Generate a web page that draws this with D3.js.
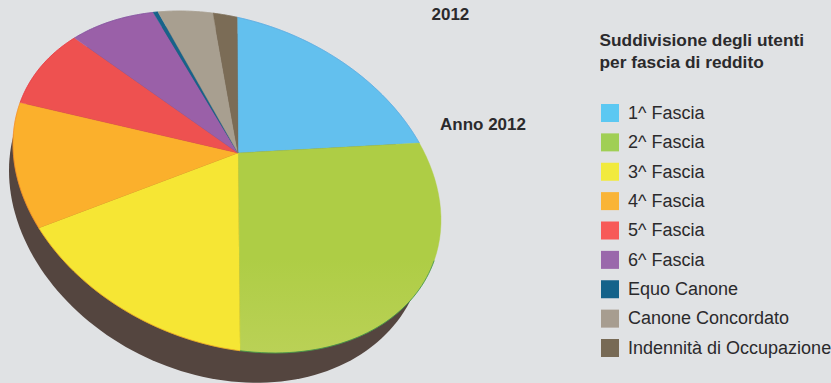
<!DOCTYPE html>
<html>
<head>
<meta charset="utf-8">
<style>
  html, body { margin: 0; padding: 0; background: #e0e2e4; }
  svg { display: block; }
  text { font-family: "Liberation Sans", Arial, sans-serif; fill: #2b2a2c; }
</style>
</head>
<body>
<svg id="chart" width="831" height="383"></svg>
<script src="https://cdn.jsdelivr.net/npm/d3@7"></script>
<script>
// Share of users per income band, year 2012 (percent)
const categories = ["1^ Fascia", "2^ Fascia", "3^ Fascia", "4^ Fascia", "5^ Fascia", "6^ Fascia",
                    "Equo Canone", "Canone Concordato", "Indennità di Occupazione"];
const shares = [20.25, 29.7, 15.07, 11.02, 8.51, 7.89, 0.44, 4.96, 2.16];
const sliceColors = ["#63c0ee", "#aecd45", "#f6e634", "#fbb02c", "#ee5150", "#9a60a8", "#17638a", "#a89f90", "#7b6c56"];
const swatchColors = ["#5cc8f2", "#a0cf55", "#f1ea3e", "#f9b437", "#f75a58", "#9a68ab", "#14628a", "#a79d90", "#776a55"];
const rimColors = ["#5aa6e0", "#2c8a4c", "#f5a623", "#f58a2a", "#e8323c", "#7f4f9c", "#17638a", "#a89f90", "#7b6c56"];
const title = ["Suddivisione degli utenti", "per fascia di reddito"];
const yearLabels = ["2012", "Anno 2012"];

const svg = d3.select("#chart");

// Tilted disc: the unit circle is taken to an ellipse by a linear map, after a
// projective shift that pulls the pie's centre toward the far edge.
const face = { cx: 227, cy: 182, a: 214, c: 38, d: 166.7 };
const base = { cx: 217, cy: 204.5, a: 208, c: 34, d: 175 };
const apex = { x: 238, y: 153 };

const toEllipse = (e, u, v) => [e.cx + e.a * u, e.cy + e.c * u + e.d * v];
const apexU = (apex.x - face.cx) / face.a;
const apexV = ((apex.y - face.cy) - face.c * apexU) / face.d;
const shift = Math.hypot(apexU, apexV);
const dir = Math.atan2(apexV, apexU);

function project(r, angle) {
  const x = r * Math.sin(angle), y = -r * Math.cos(angle);
  const a = x * Math.cos(dir) + y * Math.sin(dir);
  const b = -x * Math.sin(dir) + y * Math.cos(dir);
  const den = 1 + shift * a;
  const a2 = (a + shift) / den, b2 = b * Math.sqrt(1 - shift * shift) / den;
  return toEllipse(face, a2 * Math.cos(dir) - b2 * Math.sin(dir), a2 * Math.sin(dir) + b2 * Math.cos(dir));
}

const line = d3.line();
const slices = d3.pie().sort(null).value(d => d)(shares);
const rimPoints = (s, from = 0) => d3.range(0, 41).map(i =>
  project(1, s.startAngle + (s.endAngle - s.startAngle) * (from + (1 - from) * i / 40)));

// Green slice brightens slightly toward the near edge
const defs = svg.append("defs");
const grad = defs.append("linearGradient").attr("id", "greenShade")
  .attr("x1", 0).attr("y1", 0).attr("x2", 0).attr("y2", 1);
grad.append("stop").attr("offset", "0.55").attr("stop-color", sliceColors[1]);
grad.append("stop").attr("offset", "1").attr("stop-color", "#bad156");

// Dark side wall of the disc
svg.append("path")
  .attr("d", line(d3.range(0, 181).map(i => {
    const t = i / 180 * 2 * Math.PI;
    return toEllipse(base, Math.cos(t), Math.sin(t));
  })) + "Z")
  .attr("fill", "#54453f");

// Slices
svg.append("g").selectAll("path").data(slices).join("path")
  .attr("d", s => line([project(0, 0), ...rimPoints(s)]) + "Z")
  .attr("fill", (s, i) => i === 1 ? "url(#greenShade)" : sliceColors[i])
  .attr("stroke", (s, i) => i === 1 ? "#aecd45" : sliceColors[i])
  .attr("stroke-width", 0.4);

// Thin darker edge along the rim; on the green slice it shows only over the side wall
svg.append("g").selectAll("path").data(slices).join("path")
  .attr("d", (s, i) => line(rimPoints(s, i === 1 ? 0.4 : 0)))
  .attr("fill", "none")
  .attr("stroke", (s, i) => rimColors[i])
  .attr("stroke-width", 1)
  .attr("stroke-opacity", 0.7);

// Year labels
svg.append("text").attr("x", 431.5).attr("y", 20).attr("font-size", 17).attr("font-weight", "bold").text(yearLabels[0]);
svg.append("text").attr("x", 440).attr("y", 129.5).attr("font-size", 17).attr("font-weight", "bold").text(yearLabels[1]);

// Legend heading
svg.append("g").selectAll("text").data(title).join("text")
  .attr("x", 599.5).attr("y", (d, i) => 46 + i * 22)
  .attr("font-size", 17.3).attr("font-weight", "bold").text(d => d);

// Legend rows
const rowY = d3.scalePoint().domain(categories).range([113, 348]);
const rows = svg.append("g").selectAll("g").data(categories).join("g")
  .attr("transform", d => `translate(0,${rowY(d)})`);
rows.append("rect").attr("x", 601).attr("y", -9).attr("width", 18).attr("height", 18)
  .attr("fill", (d, i) => swatchColors[i]);
rows.append("text").attr("x", 628).attr("y", 5.8).attr("font-size", 18).text(d => d);
</script>
</body>
</html>
